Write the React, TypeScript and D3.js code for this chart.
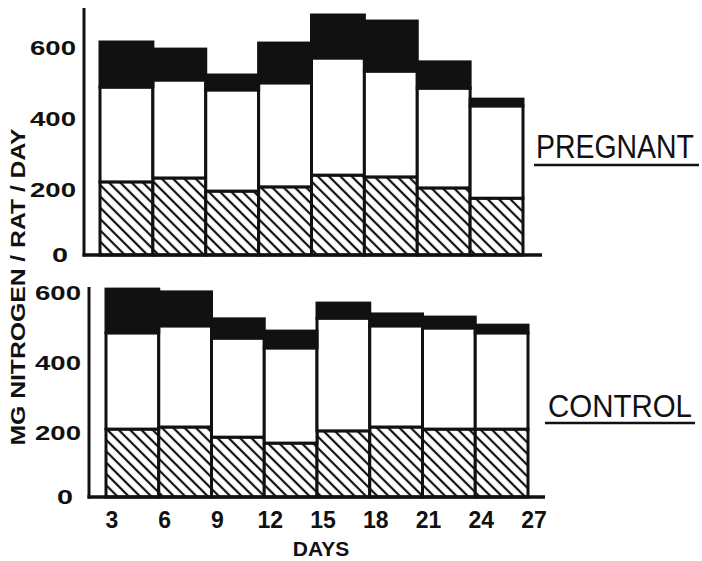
import React from "react";
import * as d3 from "d3";

// bins of 3 days each (start day)
const binStarts = [3, 6, 9, 12, 15, 18, 21, 24];
const dayTicks = [3, 6, 9, 12, 15, 18, 21, 24, 27];
const yTicks = [0, 200, 400, 600];

// mg nitrogen / rat / day
// hatched = lower part, open = middle part, solid = top part
const pregnantHatched = [206, 217, 180, 192, 225, 220, 189, 160];
const pregnantOpen = [267, 276, 285, 293, 330, 298, 281, 260];
const pregnantSolid = [127, 87, 42, 112, 121, 141, 74, 19];

const controlHatched = [194, 200, 171, 154, 189, 200, 194, 194];
const controlOpen = [275, 289, 283, 272, 322, 289, 289, 275];
const controlSolid = [125, 97, 55, 48, 43, 34, 31, 22];

const keys = ["hatched", "open", "solid"];
const FONT = "'Liberation Sans', Arial, sans-serif";

function buildRows(h: number[], o: number[], s: number[]) {
    return binStarts.map((d, i) => ({ day: d, hatched: h[i], open: o[i], solid: s[i] }));
}

const fills: any = { hatched: "url(#hatch)", open: "#fff", solid: "#111" };

function Panel(props: any) {
    const { rows, x0, x1, y0, y1, axisX, axisTop, baseEnd, label, labelX, labelY, labelSize, labelScale, labelLen, ulY, ulX0, ulX1 } = props;
    const x = d3.scaleLinear().domain([3, 27]).range([x0, x1]);
    const y = d3.scaleLinear().domain([0, 600]).range([y0, y1]);
    const series = d3.stack().keys(keys)(rows);

    return (
        <g>
            {series.map((s: any) =>
                s.map((d: any, i: number) => (
                    <rect key={s.key + i}
                        x={x(d.data.day)}
                        y={y(d[1])}
                        width={x(d.data.day + 3) - x(d.data.day)}
                        height={y(d[0]) - y(d[1])}
                        fill={fills[s.key]}
                        stroke="#111"
                        strokeWidth={3} />
                ))
            )}
            {/* axes */}
            <line x1={axisX} x2={axisX} y1={axisTop} y2={y0 + 1.5} stroke="#111" strokeWidth={3} />
            <line x1={axisX - 1.5} x2={baseEnd} y1={y0} y2={y0} stroke="#111" strokeWidth={3.5} />
            {yTicks.map((t) => (
                <text key={t}
                    x={t === 0 ? axisX - 16 : axisX - 8}
                    y={y(t) + (t === 0 ? 7 : 13)}
                    textAnchor="end"
                    fontFamily={FONT}
                    fontWeight="bold"
                    fontSize={20}
                    textLength={t === 0 ? 16 : 46}
                    lengthAdjust="spacingAndGlyphs"
                    fill="#111">{t}</text>
            ))}
            <text transform={`translate(${labelX},${labelY}) scale(1,${labelScale})`}
                fontFamily={FONT} fontSize={labelSize}
                textLength={labelLen} lengthAdjust="spacingAndGlyphs" fill="#111">{label}</text>
            <line x1={ulX0} x2={ulX1} y1={ulY} y2={ulY} stroke="#111" strokeWidth={2.5} />
        </g>
    );
}

export default function App() {
    const pregnant = buildRows(pregnantHatched, pregnantOpen, pregnantSolid);
    const control = buildRows(controlHatched, controlOpen, controlSolid);
    const xb = d3.scaleLinear().domain([3, 27]).range([106, 528]);

    return (
        <svg width={702} height={561} style={{ position: "absolute", left: 0, top: 0, background: "#fff" }}>
            <defs>
                <pattern id="hatch" width={8} height={8} patternUnits="userSpaceOnUse" patternTransform="rotate(-45)">
                    <rect width={8} height={8} fill="#fff" />
                    <line x1={4} y1={0} x2={4} y2={8} stroke="#111" strokeWidth={2.2} />
                </pattern>
            </defs>
            <rect width={702} height={561} fill="#fff" />

            <Panel rows={pregnant} x0={100} x1={523} y0={255} y1={42}
                axisX={84} axisTop={8} baseEnd={542}
                label="PREGNANT" labelX={536} labelY={158} labelSize={28} labelScale={1.2} labelLen={158}
                ulY={165} ulX0={534} ulX1={699} />

            <Panel rows={control} x0={106} x1={528} y0={497} y1={287}
                axisX={89} axisTop={287} baseEnd={545}
                label="CONTROL" labelX={548} labelY={417} labelSize={29} labelScale={1.05} labelLen={144}
                ulY={423} ulX0={545} ulX1={695} />

            {dayTicks.map((d) => (
                <text key={d} x={xb(d) + 6} y={528} textAnchor="middle"
                    fontFamily={FONT} fontWeight="bold" fontSize={23} fill="#111">{d}</text>
            ))}
            <text x={321} y={556} textAnchor="middle" fontFamily={FONT} fontWeight="bold" fontSize={21} fill="#111">DAYS</text>
            <text transform="translate(25,287) rotate(-90)" textAnchor="middle"
                fontFamily={FONT} fontWeight="bold" fontSize={20}
                textLength={317} lengthAdjust="spacingAndGlyphs" fill="#111">MG NITROGEN / RAT / DAY</text>
        </svg>
    );
}
